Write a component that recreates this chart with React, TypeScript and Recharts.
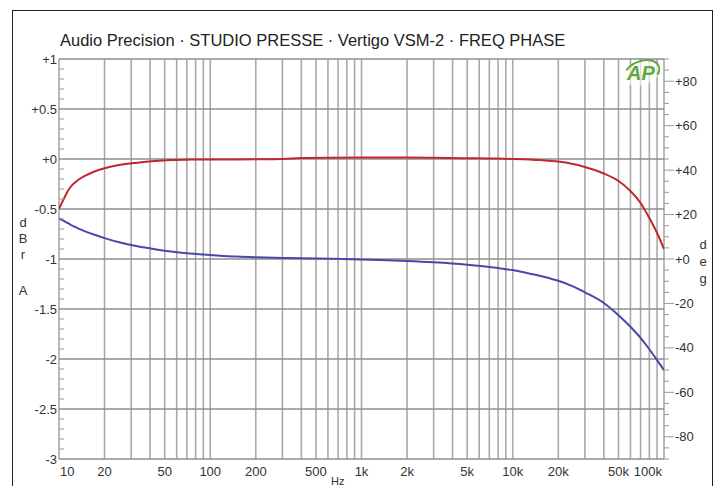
import React from "react";
import { LineChart, Line, XAxis, YAxis, ReferenceLine } from "recharts";

// ---- data ----
const freqHz = [10, 10.5, 11, 11.5, 12, 13, 14, 15.5, 17, 20, 25, 33, 43, 55, 70, 85, 100, 150, 200, 300, 400, 640, 1000, 1300, 2000, 3000, 5000, 8000, 10000, 13000, 15000, 17500, 20000, 25000, 30000, 40000, 50000, 60000, 70000, 80000, 90000, 100000];
const levelDbr = [-0.5, -0.43, -0.37, -0.315, -0.275, -0.225, -0.19, -0.155, -0.128, -0.093, -0.06, -0.037, -0.021, -0.011, -0.007, -0.005, -0.004, -0.004, -0.003, 0.0, 0.01, 0.013, 0.014, 0.014, 0.014, 0.012, 0.008, 0.004, 0.0, -0.006, -0.01, -0.018, -0.026, -0.05, -0.08, -0.145, -0.22, -0.32, -0.44, -0.59, -0.74, -0.9];
const phaseDeg = [18.3, 17.5, 16.8, 16.1, 15.3, 14.2, 13.2, 12.0, 11.0, 9.4, 7.5, 5.7, 4.4, 3.4, 2.6, 2.1, 1.8, 1.1, 0.8, 0.5, 0.3, 0.1, -0.2, -0.45, -0.9, -1.5, -2.6, -4.1, -5.0, -6.6, -7.5, -8.7, -9.8, -12.3, -15.0, -19.8, -25.3, -30.5, -35.5, -40.6, -45.5, -50];

const xTickValues = [10, 20, 50, 100, 200, 500, 1000, 2000, 5000, 10000, 20000, 50000, 100000];
const xTickLabels = ["10", "20", "50", "100", "200", "500", "1k", "2k", "5k", "10k", "20k", "50k", "100k"];
const gridFreqs = [10, 20, 30, 40, 50, 60, 70, 80, 90, 100, 200, 300, 400, 500, 600, 700, 800, 900, 1000, 2000, 3000, 4000, 5000, 6000, 7000, 8000, 9000, 10000, 20000, 30000, 40000, 50000, 60000, 70000, 80000, 90000, 100000];

const leftTickValues = [1, 0.5, 0, -0.5, -1, -1.5, -2, -2.5, -3];
const leftTickLabels = ["+1", "+0.5", "+0", "-0.5", "-1", "-1.5", "-2", "-2.5", "-3"];
const leftMinorTicks = Array.from({ length: 41 }, (_, i) => Math.round((-3 + i * 0.1) * 10) / 10);

const rightTickValues = [80, 60, 40, 20, 0, -20, -40, -60, -80];
const rightTickLabels = ["+80", "+60", "+40", "+20", "+0", "-20", "-40", "-60", "-80"];
const rightMinorTicks = Array.from({ length: 37 }, (_, i) => -90 + i * 5);

const data = freqHz.map((f, i) => ({ f, level: levelDbr[i], phase: phaseDeg[i] }));

const FONT = "'Liberation Sans', Arial, Helvetica, sans-serif";
const LABEL = "#333";

const LeftTick = (props: any) => {
  const { x, y, payload } = props;
  const v = payload.value;
  const idx = leftTickValues.findIndex((t) => Math.abs(t - v) < 1e-6);
  return (
    <g>
      {idx < 0 && <line x1={x} x2={x + 5} y1={y} y2={y} stroke="#999" strokeWidth={1} />}
      {idx >= 0 && (
        <text x={x - 2} y={y} textAnchor="end" dominantBaseline="central" fontSize={13} fill={LABEL} fontFamily={FONT}>
          {leftTickLabels[idx]}
        </text>
      )}
    </g>
  );
};

const RightTick = (props: any) => {
  const { x, y, payload } = props;
  const v = payload.value;
  const idx = rightTickValues.findIndex((t) => Math.abs(t - v) < 1e-6);
  return (
    <g>
      <line x1={x} x2={x + (idx >= 0 ? 10 : 5)} y1={y} y2={y} stroke="#999" strokeWidth={1} />
      {idx >= 0 && (
        <text x={x + 11} y={y} textAnchor="start" dominantBaseline="central" fontSize={13} fill={LABEL} fontFamily={FONT}>
          {rightTickLabels[idx]}
        </text>
      )}
    </g>
  );
};

const BottomTick = (props: any) => {
  const { x, y, payload } = props;
  const idx = xTickValues.indexOf(payload.value);
  const anchor = idx === 0 ? "start" : idx === xTickValues.length - 1 ? "end" : "middle";
  const dx = idx === 0 ? 1 : idx === xTickValues.length - 1 ? -2 : 0;
  return (
    <text x={x + dx} y={y + 12} textAnchor={anchor} dominantBaseline="central" fontSize={13} fill={LABEL} fontFamily={FONT}>
      {xTickLabels[idx]}
    </text>
  );
};

const abs = (s: React.CSSProperties): React.CSSProperties => ({ position: "absolute", ...s });

export default function App() {
  return (
    <div style={{ position: "absolute", left: 0, top: 0, width: 721, height: 486, background: "#fff", overflow: "hidden", fontFamily: FONT }}>
      <div style={abs({ left: 12, top: 10, width: 701, height: 520, border: "1.5px solid #222", boxSizing: "border-box" })} />
      <div style={abs({ left: 60, top: 30, fontSize: 16.5, lineHeight: "20px", color: "#222", whiteSpace: "nowrap" })}>
        Audio Precision · STUDIO PRESSE · Vertigo VSM-2 · FREQ PHASE
      </div>
      <div style={abs({ left: 0, top: 0 })}>
        <LineChart width={721} height={486} data={data} margin={{ top: 59, right: 17, bottom: 0, left: 9 }}>
          <XAxis
            dataKey="f"
            type="number"
            scale="log"
            domain={[10, 100000]}
            ticks={xTickValues}
            interval={0}
            tickLine={false}
            axisLine={false}
            tickSize={0}
            tickMargin={0}
            height={27}
            tick={<BottomTick />}
            allowDataOverflow
          />
          <YAxis
            yAxisId="left"
            orientation="left"
            domain={[-3, 1]}
            ticks={leftMinorTicks}
            interval={0}
            width={50}
            tickLine={false}
            axisLine={false}
            tickSize={0}
            tickMargin={0}
            tick={<LeftTick />}
            allowDataOverflow
          />
          <YAxis
            yAxisId="right"
            orientation="right"
            domain={[-90, 90]}
            ticks={rightMinorTicks}
            interval={0}
            width={40}
            tickLine={false}
            axisLine={false}
            tickSize={0}
            tickMargin={0}
            tick={<RightTick />}
            allowDataOverflow
          />
          {gridFreqs.map((f) => (
            <ReferenceLine key={"v" + f} x={f} yAxisId="left" stroke="#a9a9a9" strokeWidth={1.6} />
          ))}
          {leftTickValues.map((v) => (
            <ReferenceLine key={"h" + v} y={v} yAxisId="left" stroke="#8e8e8e" strokeWidth={1.4} />
          ))}
          <Line yAxisId="left" type="monotone" dataKey="level" stroke="#c3262c" strokeWidth={2} dot={false} isAnimationActive={false} />
          <Line yAxisId="right" type="monotone" dataKey="phase" stroke="#4848aa" strokeWidth={2} dot={false} isAnimationActive={false} />
        </LineChart>
      </div>
      {["d", "B", "r"].map((c, i) => (
        <div key={c} style={abs({ left: 17, top: 215 + i * 16, width: 12, textAlign: "center", fontSize: 13, lineHeight: "16px", color: LABEL })}>{c}</div>
      ))}
      <div style={abs({ left: 17, top: 283, width: 12, textAlign: "center", fontSize: 13, lineHeight: "16px", color: LABEL })}>A</div>
      {["d", "e", "g"].map((c, i) => (
        <div key={c} style={abs({ left: 697, top: 237 + i * 17, width: 12, textAlign: "center", fontSize: 13, lineHeight: "16px", color: LABEL })}>{c}</div>
      ))}
      <div style={abs({ left: 331, top: 475, fontSize: 11, lineHeight: "13px", color: LABEL })}>Hz</div>
      <div style={abs({ left: 623, top: 60, width: 38, height: 25, borderRadius: "50%", border: "2px solid #62a83a", borderLeftColor: "transparent", borderBottomColor: "transparent", transform: "rotate(-20deg)", boxSizing: "border-box", background: "rgba(255,255,255,0.6)" })} />
      <div style={abs({ left: 624, top: 61, width: 34, textAlign: "center", fontSize: 20, lineHeight: "24px", fontWeight: 700, fontStyle: "italic", color: "#62a83a" })}>AP</div>
    </div>
  );
}
